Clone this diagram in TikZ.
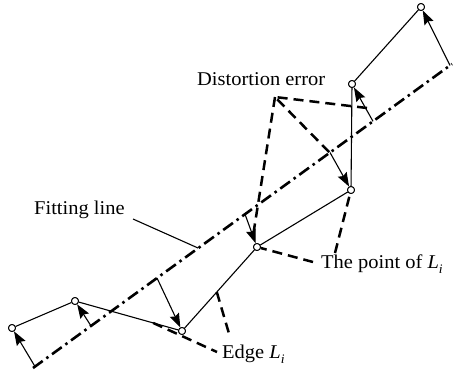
\documentclass[tikz,border=0pt]{standalone}
\usepackage{fontspec}
\setmainfont{Liberation Serif}[FakeStretch=1.05]
\usetikzlibrary{arrows.meta,calc}
\newcommand{\Lsub}{\textit{L}\raisebox{-0.28em}{\fontsize{13}{13}\selectfont\textit{i}}}
\begin{document}
\begin{tikzpicture}[x=1pt,y=-1pt,
  vtx/.style={circle,draw,fill=white,inner sep=0pt,minimum size=7pt,line width=0.9pt},
  edgeline/.style={line width=1.1pt},
  perp/.style={line width=1.1pt,-{Stealth[length=14pt,width=10pt,inset=2pt]}},
  fitline/.style={line width=2.6pt,dash pattern=on 12pt off 4.5pt on 2.5pt off 4.5pt},
  lead/.style={line width=2.5pt,dash pattern=on 10pt off 6pt},
  lbl/.style={inner sep=0pt,anchor=base west,font=\fontsize{19.5}{21}\selectfont}]
\useasboundingbox (0,0) rectangle (454,372);

% polyline vertices
\node[vtx] (p1) at (12,328) {};
\node[vtx] (p2) at (75,301) {};
\node[vtx] (p3) at (182,331) {};
\node[vtx] (p4) at (257,247) {};
\node[vtx] (p5) at (351,190) {};
\node[vtx] (p6) at (352,84) {};
\node[vtx] (p7) at (421,7) {};

% fitting line
\coordinate (l1) at (33,368);
\coordinate (l2) at (452,64);
\draw[fitline] (l1) -- (l2);

% feet on fitting line
\coordinate (f1) at (35,366.5);
\coordinate (f2) at (91,325.9);
\coordinate (f3) at (157,278);
\coordinate (f4) at (245,214.2);
\coordinate (f5) at (330,152.5);
\coordinate (f6) at (373,121.3);
\coordinate (f7) at (450,65.4);

% labels
\node[lbl] (tfit) at (34,214) {Fitting line};
\node[lbl] (tdist) at (197,85) {Distortion error};
\node[lbl] (tpoint) at (321,268) {The point of \Lsub};
\node[lbl] (tedge) at (222,358) {Edge \Lsub};

% fitting line leader
\coordinate (fl) at (133,219);
\coordinate (flend) at (198,248);
\draw[edgeline] (fl) -- (flend);

% distortion error leaders
\coordinate (da) at (275,97);
\coordinate (d1) at (367,108);
\coordinate (d2) at (331,154);
\coordinate (d3) at (253,236);
\draw[lead] (d1) -- (da) -- (d2);
\draw[lead] (da) -- (d3);

% point of L_i leaders
\coordinate (pa) at (313,262);
\coordinate (pb) at (335,253);
\draw[lead] (pa) -- (p4);
\draw[lead] (pb) -- (p5);

% edge leaders
\coordinate (ea) at ($(p2)!0.73!(p3)$);
\coordinate (eb) at ($(p3)!0.464!(p4)$);
\coordinate (ea2) at (217,352);
\coordinate (eb2) at (230,337);
\draw[lead] (ea) -- (ea2);
\draw[lead] (eb) -- (eb2);

% polyline
\draw[edgeline] (p1) -- (p2) -- (p3) -- (p4) -- (p5) -- (p6) -- (p7);

% perpendicular arrows
\draw[perp] (f1) -- (p1);
\draw[perp] (f2) -- (p2);
\draw[perp] (f3) -- (p3);
\draw[perp] (f4) -- (p4);
\draw[perp] (f5) -- (p5);
\draw[perp] (f6) -- (p6);
\draw[perp] (f7) -- (p7);

% redraw vertices on top
\foreach \n in {p1,p2,p3,p4,p5,p6,p7}
  \node[vtx] at (\n) {};
\end{tikzpicture}
\end{document}
